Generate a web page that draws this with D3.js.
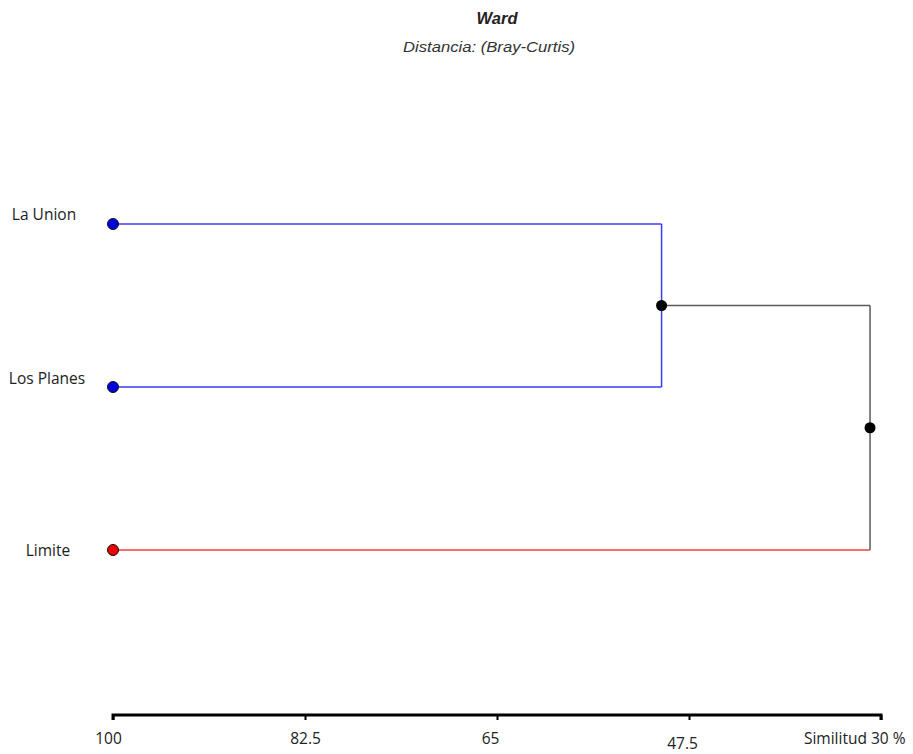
<!DOCTYPE html>
<html>
<head>
<meta charset="utf-8">
<script src="https://cdn.jsdelivr.net/npm/d3@7"></script>
<style>
body { margin: 0; background: #fff; }
svg { display: block; }
</style>
</head>
<body>
<svg id="chart" width="913" height="754"></svg>
<script>
// ---- data ----
const leaves = ["La Union", "Los Planes", "Limite"];
const leafGroup = ["A", "A", "B"];
// merges: [childA, childB, similarity]; indices >= leaves.length refer to earlier merges
const mergeA = [0, 3];
const mergeB = [1, 2];
const mergeSim = [50, 31];
const tickValues = [100, 82.5, 65, 47.5, 30];
const tickLabels = ["100", "82.5", "65", "47.5", "Similitud 30 %"];
const title = "Ward";
const subtitle = "Distancia: (Bray-Curtis)";

// ---- styling ----
const groupColor = { A: "#3a3aff", B: "#ff3b3b" };
const groupFill = { A: "#0000dd", B: "#ee0000" };
const mixedColor = "#5a5a5a";
const labelDy = [-9, -8, 1];
const labelDx = [-3, 0, 1];
const tickDy = [0, 0, 0, 5, 0];
const tickDx = [-5, 0, -7, -7, 0];
const labelFont = "Open Sans, Noto Sans, sans-serif";

const svg = d3.select("#chart");
const x = d3.scaleLinear().domain([100, 30]).range([113, 881]);
const y = d3.scalePoint().domain(leaves).range([224, 550]).padding(0);

// titles
svg.append("text").attr("x", 497).attr("y", 18).attr("dy", "0.35em").attr("text-anchor", "middle")
  .attr("font-family", "Liberation Sans, Arial, sans-serif").attr("font-size", 16.5)
  .attr("font-weight", "bold").attr("font-style", "italic").attr("fill", "#222").text(title);
svg.append("text").attr("x", 489).attr("y", 47).attr("dy", "0.35em").attr("text-anchor", "middle")
  .attr("font-family", "Liberation Sans, Arial, sans-serif").attr("font-size", 15)
  .attr("textLength", 172).attr("lengthAdjust", "spacingAndGlyphs")
  .attr("font-style", "italic").attr("fill", "#333").text(subtitle);

// nodes
const nodes = leaves.map((name, i) => ({ x: x(100), y: y(name), group: leafGroup[i], leaf: true }));
mergeSim.forEach((s, k) => {
  const a = nodes[mergeA[k]], b = nodes[mergeB[k]];
  const nx = x(s), ny = (a.y + b.y) / 2;
  const grp = a.group === b.group ? a.group : null;
  nodes.push({ x: nx, y: ny, group: grp, a, b, leaf: false });
});

const g = svg.append("g");
nodes.filter(n => !n.leaf).forEach(n => {
  const col = n.group ? groupColor[n.group] : mixedColor;
  [n.a, n.b].forEach(c => {
    const hcol = c.leaf ? groupColor[c.group] : col;
    g.append("line").attr("x1", c.x).attr("y1", c.y).attr("x2", n.x).attr("y2", c.y)
      .attr("stroke", hcol).attr("stroke-width", 1.5);
  });
  g.append("line").attr("x1", n.x).attr("y1", n.a.y).attr("x2", n.x).attr("y2", n.b.y)
    .attr("stroke", col).attr("stroke-width", 1.5);
});

// dots
nodes.forEach(n => {
  g.append("circle").attr("cx", n.x).attr("cy", n.y).attr("r", 5.5)
    .attr("fill", n.leaf ? groupFill[n.group] : "#000")
    .attr("stroke", "#111").attr("stroke-width", n.leaf ? 1 : 0);
});

// leaf labels
leaves.forEach((name, i) => {
  svg.append("text").attr("x", 47 + labelDx[i]).attr("y", y(name) + labelDy[i]).attr("dy", "0.35em")
    .attr("text-anchor", "middle").attr("font-family", labelFont)
    .attr("font-size", 15.5).attr("fill", "#222").text(name);
});

// axis
const axis = d3.axisBottom(x).tickValues(tickValues).tickSize(5)
  .tickFormat((d, i) => tickLabels[i]);
const ax = svg.append("g").attr("transform", "translate(0,715)").call(axis);
ax.select(".domain").attr("stroke", "#000").attr("stroke-width", 3)
  .attr("d", `M${x(100)},5V0H${x(30)}V5`);
ax.selectAll(".tick line").attr("stroke", "#000").attr("stroke-width", 2);
ax.selectAll(".tick text").attr("font-family", labelFont)
  .attr("font-size", 15.5).attr("fill", "#222")
  .attr("y", (d, i) => 24 + tickDy[i]).attr("dy", "0.35em")
  .attr("x", (d, i) => tickDx[i]);
ax.selectAll(".tick").filter((d, i) => i === tickValues.length - 1).select("text")
  .attr("text-anchor", "end").attr("x", 24);
</script>
</body>
</html>
